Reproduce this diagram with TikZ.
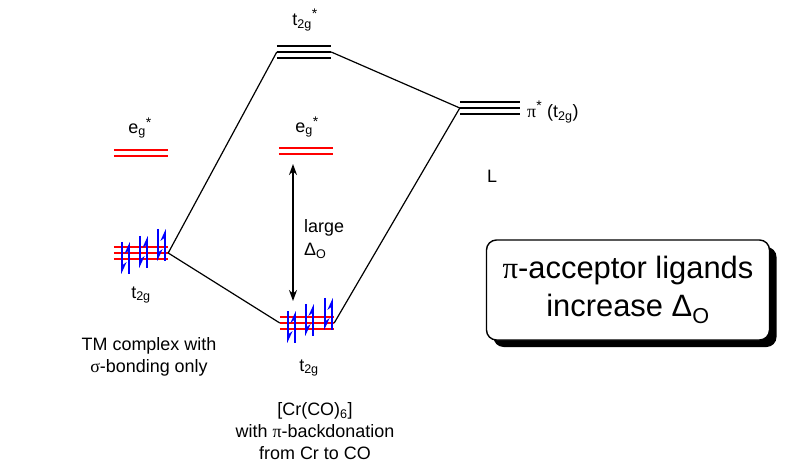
\documentclass[tikz,border=0pt]{standalone}
\usepackage{fontspec}
\setmainfont{Liberation Sans}
\newfontfamily\grk{Liberation Serif}
\usetikzlibrary{arrows.meta,calc,shadows}
\newcommand{\stard}{\textsuperscript{\fontsize{14}{14}\selectfont *}}

\begin{document}
\begin{tikzpicture}[x=1bp, y=-1bp,
    every node/.style={font=\fontsize{18}{22}\selectfont, inner sep=0pt},
    lvl/.style={minimum width=54bp, minimum height=12bp},
    lv/.style={line width=1.3bp},
    conn/.style={line width=1.2bp},
    el/.style={blue, line width=1.6bp, -{Stealth[harpoon, length=10bp, width=9bp]}},
    arr/.style={{Stealth[length=11bp, width=8bp]}-{Stealth[length=11bp, width=8bp]}, line width=1.6bp},
  ]
  \useasboundingbox (0,0) rectangle (792,467);

  % Levels
  \node[lvl] (egL) at (141,153) {};
  \node[lvl] (t2gL) at (141,253) {};
  \node[lvl] (egC) at (306,151) {};
  \node[lvl] (t2gC) at (307,323) {};
  \node[lvl] (t2gS) at (304,52) {};
  \node[lvl, minimum width=60bp] (piL) at (490,108) {};

  \foreach \n in {egL,egC}
    \foreach \dy in {-3,3}
      \draw[lv, red] ($(\n.west)+(0,\dy)$) -- ($(\n.east)+(0,\dy)$);
  \foreach \n in {t2gL,t2gC}
    \foreach \dy in {-6,0,6}
      \draw[lv, red] ($(\n.west)+(0,\dy)$) -- ($(\n.east)+(0,\dy)$);
  \foreach \n in {t2gS,piL}
    \foreach \dy in {-6,0,6}
      \draw[lv] ($(\n.west)+(0,\dy)$) -- ($(\n.east)+(0,\dy)$);

  % Electrons
  \foreach \dx/\c in {-19/258, -1/252, 17/245} {
    \draw[el] ($(t2gL)+(\dx,\c-253-16)$) -- ($(t2gL)+(\dx,\c-253+16)$);
    \draw[el] ($(t2gL)+(\dx+7,\c-253+16)$) -- ($(t2gL)+(\dx+7,\c-253-16)$);
  }
  \foreach \dx/\c in {-19/327, -1/320, 18/314} {
    \draw[el] ($(t2gC)+(\dx,\c-323-16)$) -- ($(t2gC)+(\dx,\c-323+16)$);
    \draw[el] ($(t2gC)+(\dx+7,\c-323+16)$) -- ($(t2gC)+(\dx+7,\c-323-16)$);
  }

  % Connectors
  \draw[conn] (t2gL.east) -- (t2gS.west);
  \draw[conn] (t2gL.east) -- (t2gC.west);
  \draw[conn] (t2gS.east) -- (piL.west);
  \draw[conn] (t2gC.east) -- (piL.west);

  % Delta arrow
  \coordinate (dtop) at (293,164);
  \coordinate (dbot) at (293,301);
  \draw[arr] (dtop) -- (dbot);
  \node[align=left, anchor=west] (lg) at (304,239) {large\\[1bp]Δ\textsubscript{O}};

  % Labels
  \node (egLl) at (140,128) {e\textsubscript{g}\stard};
  \node (egCl) at (307,127) {e\textsubscript{g}\stard};
  \node (t2gSl) at (305,20) {t\textsubscript{2g}\stard};
  \node[anchor=west] (piLl) at (527,112) {{\grk π}\stard{} (t\textsubscript{2g})};
  \node (Ll) at (492,176) {L};
  \node (t2gLl) at (141,295) {t\textsubscript{2g}};
  \node (t2gCl) at (309,368) {t\textsubscript{2g}};
  \node[align=center] (tm) at (149,357) {TM complex with\\{\grk σ}-bonding only};
  \node[align=center] (cr) at (315,431) {[Cr(CO)\textsubscript{6}]\\with {\grk π}-backdonation\\from Cr to CO};

  % Box
  \node[draw, line width=1.4bp, rounded corners=10bp, fill=white,
        minimum width=283bp, minimum height=100bp, align=center,
        font=\fontsize{31}{38}\selectfont,
        drop shadow={shadow xshift=7bp, shadow yshift=-7bp, opacity=1, fill=black}]
    (msg) at (628,290) {{\grk π}-acceptor ligands\\increase Δ\textsubscript{O}};
\end{tikzpicture}
\end{document}
